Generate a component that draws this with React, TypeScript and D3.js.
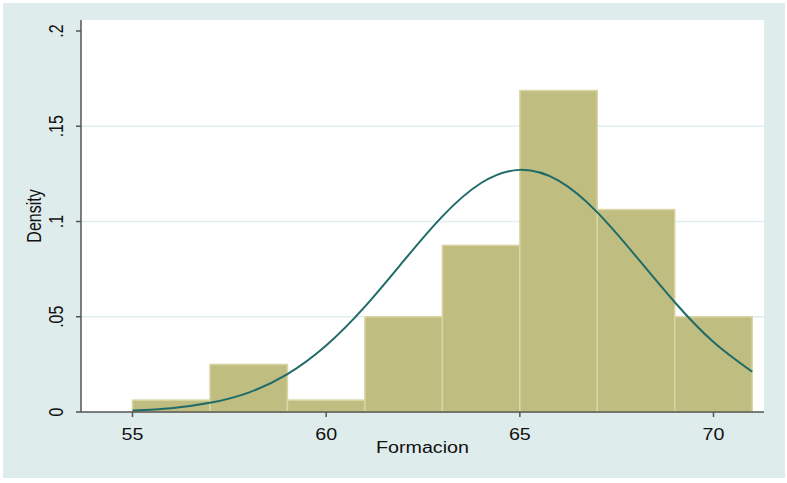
import React from 'react';
import * as d3 from 'd3';

// histogram bins (lower edge, width 2) and density heights
const binStarts = [55, 57, 59, 61, 63, 65, 67, 69];
const binWidth = 2;
const densities = [0.00625, 0.025, 0.00625, 0.05, 0.0875, 0.16875, 0.10625, 0.05];

// normal density overlay, read at each integer x
const curveX = [55, 56, 57, 58, 59, 60, 61, 62, 63, 64, 65, 66, 67, 68, 69, 70, 71];
const curveY = [0.0008, 0.002, 0.0048, 0.0102, 0.0199, 0.0349, 0.0553, 0.0793, 0.1027, 0.1202,
  0.1271, 0.1214, 0.1048, 0.0817, 0.0576, 0.0367, 0.0211];

const xTicks = [55, 60, 65, 70];
const yTicks = [0, 0.05, 0.1, 0.15, 0.2];
const yTickLabels = ['0', '.05', '.1', '.15', '.2'];

const W = 787;
const H = 483;
const plot = { left: 81, right: 764, top: 20, bottom: 412 };
const font = 'Liberation Sans, Arial, sans-serif';
// the reference's text is a bit wider than it is tall
const sx = 1.23;

const App = () => {
  const x = d3.scaleLinear().domain([55, 70]).range([132.5, 713.5]);
  const y = d3.scaleLinear().domain([0, 0.2]).range([plot.bottom, 31]);

  const line = d3.line<number>()
    .x((d, i) => x(curveX[i]))
    .y(d => y(d))
    .curve(d3.curveNatural);

  return (
    <svg width={W} height={H} style={{ position: 'absolute', left: 0, top: 0 }}>
      <rect x={0} y={0} width={W} height={H} fill="#ffffff" />
      <rect x={3} y={3} width={782} height={475} fill="#dfecec" />
      <rect x={plot.left} y={plot.top} width={plot.right - plot.left} height={plot.bottom - plot.top} fill="#ffffff" />

      {/* grid */}
      {yTicks.filter(t => t > 0 && t < 0.2).map(t => (
        <line key={t} x1={plot.left} x2={plot.right} y1={y(t)} y2={y(t)} stroke="#e1eef0" strokeWidth={1.5} />
      ))}

      {/* bars */}
      {binStarts.map((b, i) => (
        <rect key={b} x={x(b)} y={y(densities[i])} width={x(b + binWidth) - x(b)}
          height={plot.bottom - y(densities[i])} fill="#bfbd80" stroke="#d9d6a6" strokeWidth={1.5} />
      ))}

      {/* normal curve */}
      <path d={line(curveY) || ''} fill="none" stroke="#1e6b68" strokeWidth={2} />

      {/* y axis */}
      <line x1={plot.left} x2={plot.left} y1={plot.top} y2={plot.bottom} stroke="#555" strokeWidth={1.5} />
      {yTicks.map((t, i) => (
        <g key={t}>
          <line x1={plot.left - 5} x2={plot.left} y1={y(t)} y2={y(t)} stroke="#555" strokeWidth={1.5} />
          <text transform={`translate(63,${y(t)}) scale(${sx},1) rotate(-90)`} textAnchor="middle" fontFamily={font}
            fontSize={16} fill="#111">{yTickLabels[i]}</text>
        </g>
      ))}
      <text transform={`translate(41,${(plot.top + plot.bottom) / 2}) scale(${sx},1) rotate(-90)`} textAnchor="middle"
        fontFamily={font} fontSize={16} fill="#111">Density</text>

      {/* x axis */}
      <line x1={plot.left} x2={plot.right} y1={plot.bottom} y2={plot.bottom} stroke="#555" strokeWidth={1.5} />
      {xTicks.map(t => (
        <g key={t}>
          <line x1={x(t)} x2={x(t)} y1={plot.bottom} y2={plot.bottom + 5} stroke="#555" strokeWidth={1.5} />
          <text transform={`translate(${x(t)},440) scale(${sx},1)`} textAnchor="middle" fontFamily={font}
            fontSize={16} fill="#111">{t}</text>
        </g>
      ))}
      <text transform={`translate(${(plot.left + plot.right) / 2},453) scale(${sx},1)`} textAnchor="middle"
        fontFamily={font} fontSize={16} fill="#111">Formacion</text>
    </svg>
  );
};

export default App;
